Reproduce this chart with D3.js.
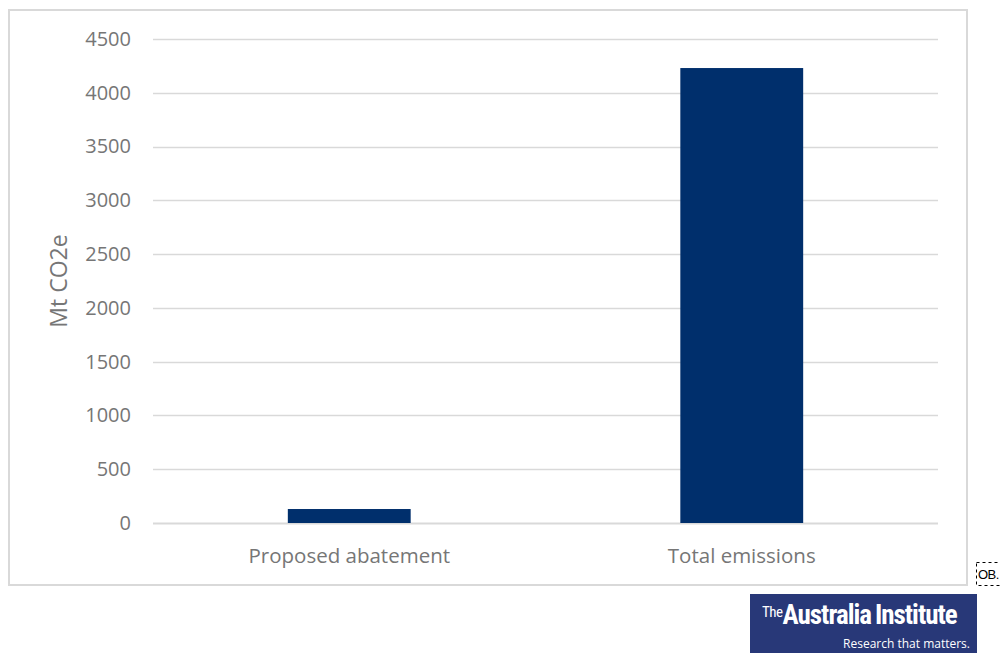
<!DOCTYPE html>
<html>
<head>
<meta charset="utf-8">
<script src="https://cdn.jsdelivr.net/npm/d3@7"></script>
<style>
  body { margin: 0; background: #fff; }
  svg { display: block; }
</style>
</head>
<body>
<div id="chart"></div>
<script>
// values
const categories = ['Proposed abatement', 'Total emissions'];
const values = [130, 4230];
const yTicks = [0, 500, 1000, 1500, 2000, 2500, 3000, 3500, 4000, 4500];

const W = 1000, H = 653;
const margin = { left: 153, right: 62, top: 39, bottom: 130 };
const FONT = '"Open Sans", "Noto Sans", sans-serif';
const TEXT_GREY = '#767676';

const svg = d3.select('#chart').append('svg')
  .attr('width', W)
  .attr('height', H)
  .attr('font-family', FONT);

// chart frame
svg.append('rect')
  .attr('x', 9).attr('y', 10)
  .attr('width', 958).attr('height', 575)
  .attr('fill', '#fff')
  .attr('stroke', '#d9d9d9')
  .attr('stroke-width', 2);

const x = d3.scaleBand()
  .domain(categories)
  .range([margin.left, W - margin.right])
  .padding(0);

const y = d3.scaleLinear()
  .domain([0, 4500])
  .range([H - margin.bottom, margin.top]);

// gridlines
svg.append('g').attr('class', 'grid')
  .selectAll('line')
  .data(yTicks)
  .join('line')
  .attr('x1', margin.left)
  .attr('x2', W - margin.right)
  .attr('y1', d => Math.round(y(d)) + 0.5)
  .attr('y2', d => Math.round(y(d)) + 0.5)
  .attr('stroke', '#d9d9d9')
  .attr('stroke-width', d => d === 0 ? 2 : 1.3);

// y axis labels
const yAxis = d3.axisLeft(y).tickValues(yTicks).tickFormat(d3.format('d')).tickSize(0).tickPadding(22);
svg.append('g')
  .attr('transform', `translate(${margin.left},0)`)
  .call(yAxis)
  .attr('font-family', FONT)
  .call(g => g.select('.domain').remove())
  .call(g => g.selectAll('text')
    .attr('fill', TEXT_GREY)
    .attr('font-size', '20px'));

// bars
const barFrac = 0.313;
svg.append('g').attr('class', 'bars')
  .selectAll('rect')
  .data(categories)
  .join('rect')
  .attr('x', (d) => x(d) + x.bandwidth() * (1 - barFrac) / 2)
  .attr('width', x.bandwidth() * barFrac)
  .attr('y', (d, i) => y(values[i]))
  .attr('height', (d, i) => y(0) - y(values[i]))
  .attr('fill', '#002f6c');

// x axis labels
const xAxis = d3.axisBottom(x).tickSize(0).tickPadding(25);
svg.append('g')
  .attr('transform', `translate(0,${y(0)})`)
  .call(xAxis)
  .attr('font-family', FONT)
  .call(g => g.select('.domain').remove())
  .call(g => g.selectAll('text')
    .attr('fill', TEXT_GREY)
    .attr('font-size', '20.5px'));

// y title
svg.append('text')
  .attr('transform', `translate(67,281) rotate(-90)`)
  .attr('text-anchor', 'middle')
  .attr('fill', TEXT_GREY)
  .attr('font-size', '23px')
  .text('Mt CO2e');

// small dashed tag at the corner
svg.append('rect')
  .attr('x', 976.5).attr('y', 562.5)
  .attr('width', 27).attr('height', 23)
  .attr('fill', 'none')
  .attr('stroke', '#000')
  .attr('stroke-dasharray', '3,3');
svg.append('text')
  .attr('x', 978).attr('y', 579)
  .attr('font-family', 'Arial, "Liberation Sans", sans-serif')
  .attr('font-size', '13px')
  .attr('letter-spacing', '-0.5px')
  .attr('fill', '#000')
  .text('OB.');

// logo
const logo = svg.append('g').attr('transform', 'translate(750,594)');
logo.append('rect')
  .attr('width', 227).attr('height', 59)
  .attr('fill', '#283878');
logo.append('text')
  .attr('x', 12).attr('y', 30)
  .attr('fill', '#fff')
  .attr('font-family', '"Liberation Sans Narrow", "Roboto Condensed", "Open Sans", sans-serif')
  .attr('font-size', '27px')
  .attr('letter-spacing', '-1px')
  .call(t => t.append('tspan').attr('font-size', '15px').attr('dy', '-7').attr('letter-spacing', '-0.5px').text('The'))
  .call(t => t.append('tspan').attr('dy', '7').attr('font-weight', 'bold').text('Australia'))
  .call(t => t.append('tspan').attr('dx', '4').attr('font-weight', 'bold').text('Institute'));
logo.append('text')
  .attr('x', 220).attr('y', 54)
  .attr('text-anchor', 'end')
  .attr('fill', '#fff')
  .attr('font-family', '"Liberation Sans Narrow", "Open Sans", sans-serif')
  .attr('font-size', '12px')
  .text('Research that matters.');
</script>
</body>
</html>
